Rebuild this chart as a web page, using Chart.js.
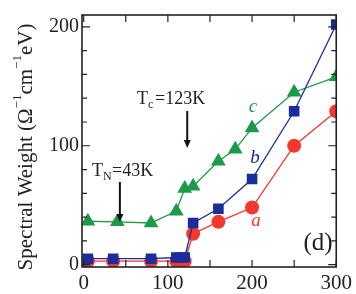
<!DOCTYPE html>
<html>
<head>
<meta charset="utf-8">
<script src="https://cdn.jsdelivr.net/npm/chart.js@4/dist/chart.umd.min.js"></script>
<style>
  html, body { margin: 0; padding: 0; background: #fff; }
  #wrap { width: 356px; height: 294px; }
</style>
</head>
<body>
<div id="wrap"><canvas id="chart" width="356" height="294"></canvas></div>
<script>
// temperatures (K) and spectral weight for each curve
const tempsA = [5, 35, 80, 110, 115, 120, 130, 160, 200, 250, 300];
const weightA = [3, 3, 3, 3, 3, 3, 26, 36, 48, 100, 129];

const tempsB = [5, 35, 80, 110, 115, 120, 130, 160, 200, 250, 300];
const weightB = [5, 5, 5, 6, 6, 6, 35, 47, 72, 129, 202];

const tempsC = [5, 40, 80, 110, 120, 130, 160, 180, 200, 250, 300];
const weightC = [36.5, 36, 35, 45, 64, 66, 87, 97, 115, 145, 158];

const xLabels = [0, 100, 200, 300];
const yLabels = [0, 100, 200];

const RED = "#f5372c";
const BLUE = "#1b2d9c";
const GREEN = "#1c9a48";
const SERIF = "'Liberation Serif', 'DejaVu Serif', serif";

function pts(xs, ys) {
  return xs.map((x, i) => ({ x: x, y: ys[i] }));
}

// inward ticks on all four sides + frame + annotations
const decorPlugin = {
  id: "decor",
  afterDraw(chart) {
    const ctx = chart.ctx;
    const a = chart.chartArea;
    const xs = chart.scales.x;
    const ys = chart.scales.y;
    ctx.save();
    ctx.strokeStyle = "#222";
    ctx.lineWidth = 1.6;
    ctx.strokeRect(a.left, a.top, a.right - a.left, a.bottom - a.top);

    ctx.lineWidth = 1.2;
    xs.ticks.forEach(t => {
      const px = xs.getPixelForValue(t.value);
      ctx.beginPath();
      ctx.moveTo(px, a.bottom); ctx.lineTo(px, a.bottom - 7);
      ctx.moveTo(px, a.top); ctx.lineTo(px, a.top + 7);
      ctx.stroke();
    });
    ys.ticks.forEach(t => {
      const py = ys.getPixelForValue(t.value);
      const len = yLabels.includes(t.value) ? 8 : 5;
      ctx.beginPath();
      ctx.moveTo(a.left, py); ctx.lineTo(a.left + len, py);
      ctx.moveTo(a.right, py); ctx.lineTo(a.right - len, py);
      ctx.stroke();
    });

    // arrows for transition temperatures
    function arrow(xv, y1, y2) {
      const px = xs.getPixelForValue(xv);
      ctx.strokeStyle = "#111";
      ctx.fillStyle = "#111";
      ctx.lineWidth = 2;
      ctx.beginPath();
      ctx.moveTo(px, y1); ctx.lineTo(px, y2 - 6);
      ctx.stroke();
      ctx.beginPath();
      ctx.moveTo(px - 3.5, y2 - 8); ctx.lineTo(px + 3.5, y2 - 8); ctx.lineTo(px, y2);
      ctx.closePath();
      ctx.fill();
    }
    arrow(123, 111, 148);
    arrow(43, 182, 222);

    ctx.fillStyle = "#222";
    ctx.textBaseline = "alphabetic";
    ctx.textAlign = "left";
    // Tc label
    ctx.font = "18px " + SERIF;
    ctx.fillText("T", 137, 104);
    ctx.font = "12px " + SERIF;
    ctx.fillText("c", 148, 108);
    ctx.font = "18px " + SERIF;
    ctx.fillText("=123K", 155, 104);
    // TN label
    ctx.fillText("T", 92, 176);
    ctx.font = "12px " + SERIF;
    ctx.fillText("N", 103, 180);
    ctx.font = "18px " + SERIF;
    ctx.fillText("=43K", 112, 176);

    // curve letters
    ctx.font = "italic 19px " + SERIF;
    ctx.textAlign = "center";
    ctx.fillStyle = GREEN; ctx.fillText("c", 253, 112);
    ctx.fillStyle = BLUE; ctx.fillText("b", 255, 163);
    ctx.fillStyle = RED; ctx.fillText("a", 256, 226);

    // panel letter
    ctx.fillStyle = "#222";
    ctx.font = "25px " + SERIF;
    ctx.fillText("(d)", 318, 250);

    // y axis title with superscripts
    ctx.translate(20, 147);
    ctx.rotate(-Math.PI / 2);
    const parts = [
      ["Spectral Weight (\u03A9", 21, 0],
      ["\u22121", 13, -8],
      ["cm", 21, 0],
      ["\u22121", 13, -8],
      ["eV)", 21, 0]
    ];
    let total = 0;
    parts.forEach(p => { ctx.font = p[1] + "px " + SERIF; total += ctx.measureText(p[0]).width; });
    let cx = -total / 2;
    ctx.textAlign = "left";
    ctx.textBaseline = "middle";
    parts.forEach(p => {
      ctx.font = p[1] + "px " + SERIF;
      ctx.fillText(p[0], cx, p[2] + 6);
      cx += ctx.measureText(p[0]).width;
    });
    ctx.restore();
  }
};

new Chart(document.getElementById("chart"), {
  type: "line",
  data: {
    datasets: [
      {
        label: "b",
        data: pts(tempsB, weightB),
        borderColor: BLUE,
        backgroundColor: BLUE,
        pointStyle: "rect",
        pointRadius: 7.5,
        borderWidth: 1.3,
        pointBorderWidth: 0
      },
      {
        label: "a",
        data: pts(tempsA, weightA),
        borderColor: RED,
        backgroundColor: RED,
        pointStyle: "circle",
        pointRadius: 7,
        borderWidth: 1.3,
        pointBorderWidth: 0
      },
      {
        label: "c",
        data: pts(tempsC, weightC),
        borderColor: GREEN,
        backgroundColor: GREEN,
        pointStyle: "triangle",
        pointRadius: 8.5,
        borderWidth: 1.3,
        pointBorderWidth: 0
      }
    ]
  },
  options: {
    responsive: false,
    animation: false,
    layout: { padding: { top: 5, right: 13, left: 0, bottom: 0 } },
    plugins: { legend: { display: false }, tooltip: { enabled: false } },
    elements: { line: { tension: 0 } },
    scales: {
      x: {
        type: "linear",
        min: -2,
        max: 300,
        grid: { display: false, drawTicks: false },
        border: { display: false },
        afterBuildTicks: s => {
          const t = [];
          for (let v = 0; v <= 300; v += 50) t.push({ value: v });
          s.ticks = t;
        },
        ticks: {
          autoSkip: false,
          maxRotation: 0,
          padding: 4,
          color: "#222",
          font: { family: SERIF, size: 21 },
          callback: v => xLabels.includes(v) ? String(v) : ""
        },
        afterFit: s => { s.height = 27; }
      },
      y: {
        type: "linear",
        min: -2,
        max: 210,
        grid: { display: false, drawTicks: false },
        border: { display: false },
        afterBuildTicks: s => {
          const t = [];
          for (let v = 0; v <= 200; v += 20) t.push({ value: v });
          s.ticks = t;
        },
        ticks: {
          autoSkip: false,
          padding: 3,
          color: "#222",
          font: { family: SERIF, size: 20 },
          callback: v => yLabels.includes(v) ? String(v) : ""
        },
        afterFit: s => { s.width = 82; }
      }
    }
  },
  plugins: [decorPlugin]
});
</script>
</body>
</html>
